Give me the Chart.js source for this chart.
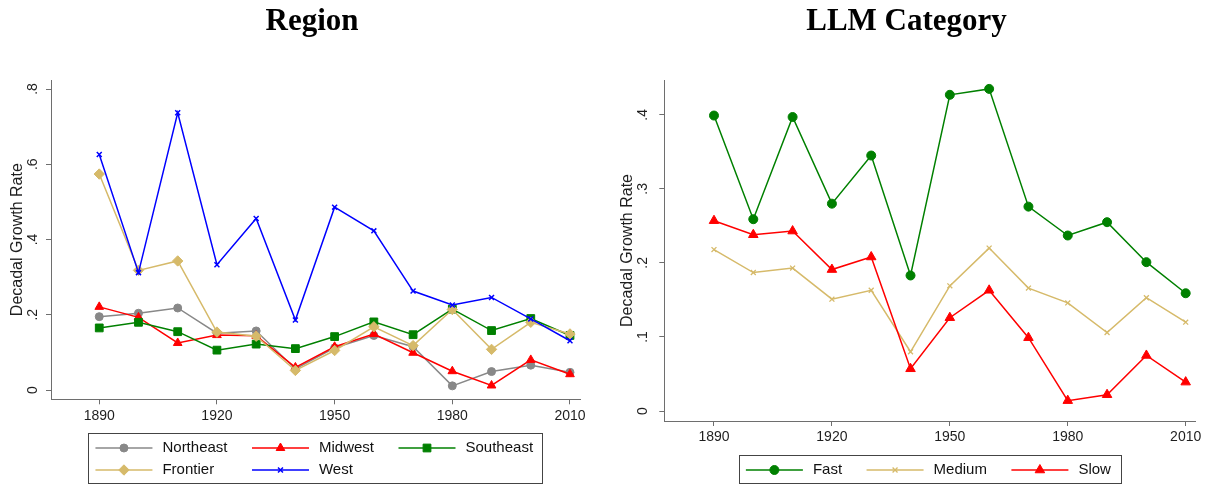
<!DOCTYPE html>
<html><head><meta charset="utf-8">
<script src="https://cdn.jsdelivr.net/npm/chart.js@4.4.1/dist/chart.umd.min.js"></script>
<style>
html,body{margin:0;padding:0;background:#fff;width:1212px;height:487px;overflow:hidden;}
canvas{position:absolute;top:0;}
#c1{left:0;} #c2{left:601px;}
</style></head><body>
<canvas id="c1" width="624" height="487"></canvas>
<canvas id="c2" width="611" height="487"></canvas>
<script>
// ---------- data ----------
const years = [1890,1900,1910,1920,1930,1940,1950,1960,1970,1980,1990,2000,2010];
const xTicks = [1890,1920,1950,1980,2010];
const regionYTicks = [0,0.2,0.4,0.6,0.8];
const llmYTicks = [0,0.1,0.2,0.3,0.4];

const northeast = [0.195,0.204,0.218,0.151,0.157,0.056,0.112,0.145,0.115,0.011,0.049,0.066,0.047];
const midwest   = [0.221,0.193,0.125,0.146,0.144,0.060,0.115,0.149,0.099,0.050,0.012,0.080,0.042];
const southeast = [0.165,0.180,0.155,0.106,0.122,0.110,0.142,0.181,0.147,0.215,0.158,0.190,0.145];
const frontier  = [0.574,0.318,0.343,0.154,0.143,0.052,0.105,0.168,0.118,0.214,0.108,0.180,0.149];
const west      = [0.626,0.312,0.737,0.333,0.456,0.186,0.486,0.423,0.263,0.226,0.246,0.189,0.131];

const fast   = [0.399,0.259,0.397,0.280,0.345,0.183,0.427,0.435,0.276,0.237,0.255,0.201,0.159];
const medium = [0.218,0.187,0.193,0.151,0.163,0.080,0.169,0.220,0.166,0.146,0.106,0.153,0.120];
const slow   = [0.257,0.238,0.243,0.191,0.208,0.057,0.126,0.163,0.099,0.014,0.022,0.075,0.039];

// ---------- styling ----------
const AX = '#6e6e6e';
const TXT = '#1e1e1e';
const SANS = '"Liberation Sans", Arial, sans-serif';
const C = {gray:'#888888', red:'#ff0000', green:'#008000', tan:'#d6ba6a', blue:'#0000ff'};

function pts(arr){ return years.map((x,i)=>({x:x, y:arr[i]})); }
function yFmt(v){ if (Math.abs(v) < 1e-9) return '0'; return v.toFixed(1).replace(/^0\./,'.'); }
function ds(label, arr, color, style, radius, bw, order){
  return {label:label, data:pts(arr), borderColor:color, backgroundColor:color,
    pointBackgroundColor:color, pointBorderColor:color, borderWidth:1.5,
    pointStyle:style, pointRadius:radius, pointHoverRadius:radius, pointBorderWidth:bw,
    tension:0, fill:false, order:order};
}

const gridLegend = {
  id:'gridLegend',
  afterDraw(chart, args, o){
    if(!o || !o.cols) return;
    const ctx = chart.ctx, H = Chart.helpers;
    const d = chart.data.datasets;
    ctx.save();
    ctx.font = o.fontSize + 'px ' + SANS;
    const n = d.length, cols = o.cols, rows = Math.ceil(n/cols);
    const colW = [];
    for(let c=0;c<cols;c++){
      let w = 0;
      for(let r=0;r<rows;r++){ const i=r*cols+c; if(i<n) w=Math.max(w, o.lineLen+o.gap+ctx.measureText(d[i].label).width); }
      colW.push(w);
    }
    const total = o.padL + colW.reduce((a,b)=>a+b,0) + o.colGap*(cols-1) + o.padR;
    const cx = (chart.chartArea.left + chart.chartArea.right)/2;
    const left = cx - total/2;
    const top = o.top, bottom = top + o.firstRow + (rows-1)*o.rowH + o.lastPad;
    ctx.strokeStyle = o.borderColor; ctx.lineWidth = 1;
    ctx.strokeRect(Math.round(left)+0.5, Math.round(top)+0.5, Math.round(total), Math.round(bottom-top));
    let x0 = left + o.padL;
    for(let c=0;c<cols;c++){
      for(let r=0;r<rows;r++){
        const i = r*cols+c; if(i>=n) continue;
        const s = d[i]; const y = top + o.firstRow + r*o.rowH;
        ctx.strokeStyle = s.borderColor; ctx.lineWidth = s.borderWidth;
        ctx.beginPath(); ctx.moveTo(x0,y); ctx.lineTo(x0+o.lineLen,y); ctx.stroke();
        ctx.fillStyle = s.pointBackgroundColor; ctx.strokeStyle = s.pointBorderColor; ctx.lineWidth = s.pointBorderWidth;
        H.drawPoint(ctx, {pointStyle:s.pointStyle, radius:s.pointRadius, rotation:0, borderWidth:s.pointBorderWidth}, x0+o.lineLen/2, y);
        ctx.fillStyle = o.color; ctx.textBaseline = 'middle'; ctx.textAlign = 'left';
        ctx.fillText(s.label, x0+o.lineLen+o.gap, y);
      }
      x0 += colW[c] + o.colGap;
    }
    ctx.restore();
  }
};
Chart.register(gridLegend);

function makeOptions(p){
  return {
    responsive:false, animation:false, devicePixelRatio:1,
    layout:{padding:0, autoPadding:false},
    plugins:{
      legend:{display:false}, tooltip:{enabled:false},
      title:{display:true, text:p.title, color:'#000',
        font:{family:'"Liberation Serif", "Times New Roman", serif', size:31, weight:'bold'},
        padding:{top:3, bottom:39.8}},
      gridLegend:{cols:p.cols, top:p.legendTop, fontSize:15, lineLen:57, gap:10, colGap:24.5,
        padL:7, padR:9.5, firstRow:15, rowH:22, lastPad:13, borderColor:'#444', color:'#111'}
    },
    scales:{
      x:{type:'linear', min:p.xmin, max:p.xmax,
        afterBuildTicks:s=>{ s.ticks = xTicks.map(v=>({value:v})); },
        afterFit:s=>{ s.height = p.xh; },
        grid:{drawOnChartArea:false, drawTicks:true, tickLength:5, color:AX},
        border:{display:true, color:AX, width:1},
        ticks:{color:TXT, font:{family:SANS, size:14}, padding:3, maxRotation:0, minRotation:0, callback:v=>String(v)}},
      y:{type:'linear', position:'left', min:p.ymin, max:p.ymax,
        afterBuildTicks:s=>{ s.ticks = p.yTicks.map(v=>({value:v})); },
        afterFit:s=>{ s.width = p.yw; },
        grid:{drawOnChartArea:false, drawTicks:true, tickLength:5, color:AX},
        border:{display:true, color:AX, width:1},
        ticks:{color:TXT, font:{family:SANS, size:14}, padding:p.ypad, minRotation:90, maxRotation:90, crossAlign:'center', callback:yFmt},
        title:{display:true, text:'Decadal Growth Rate', color:TXT, font:{family:SANS, size:16}, padding:{top:p.ytp, bottom:0}}},
      y2:{type:'linear', position:'right', display:true,
        grid:{display:false}, border:{display:false}, ticks:{display:false},
        afterFit:s=>{ s.width = p.rw; }}
    }
  };
}

new Chart(document.getElementById('c1'), {
  type:'line',
  data:{datasets:[
    ds('Northeast', northeast, C.gray, 'circle', 4, 1, 4),
    ds('Midwest', midwest, C.red, 'triangle', 5, 1, 3),
    ds('Southeast', southeast, C.green, 'rect', 5.5, 1, 2),
    ds('Frontier', frontier, C.tan, 'rectRot', 5.2, 1, 1),
    ds('West', west, C.blue, 'crossRot', 3.5, 1.5, 0)
  ]},
  options: makeOptions({title:'Region', cols:3, legendTop:433, xmin:1877.7, xmax:2012.55, xh:87.7,
    ymin:-0.0247, ymax:0.824, yTicks:regionYTicks, yw:51, ypad:7, ytp:8, rw:44})
});

new Chart(document.getElementById('c2'), {
  type:'line',
  data:{datasets:[
    ds('Fast', fast, C.green, 'circle', 4.5, 1, 2),
    ds('Medium', medium, C.tan, 'crossRot', 3.5, 1.3, 1),
    ds('Slow', slow, C.red, 'triangle', 5.5, 1, 0)
  ]},
  options: makeOptions({title:'LLM Category', cols:3, legendTop:455, xmin:1877.36, xmax:2012.37, xh:66,
    ymin:-0.0135, ymax:0.447, yTicks:llmYTicks, yw:63.3, ypad:10, ytp:17, rw:17})
});
</script>
</body></html>
